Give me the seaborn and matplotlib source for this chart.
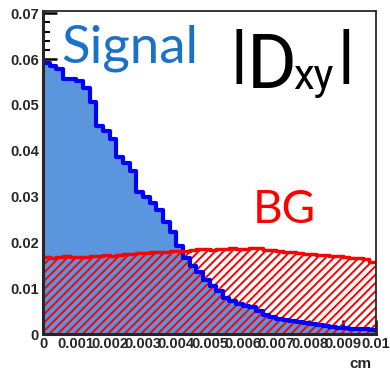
import numpy as np
import pandas as pd
import matplotlib
matplotlib.use("Agg")
import matplotlib.pyplot as plt
import seaborn as sns
from matplotlib.ticker import MultipleLocator, FixedLocator, FixedFormatter

# 50 bins de 0 a 0.01 cm
bin_edges = [round(i * 0.0002, 6) for i in range(51)]
bin_centers = [round(i * 0.0002 + 0.0001, 6) for i in range(50)]

signal = [0.0592, 0.0585, 0.0578, 0.0556, 0.0556, 0.0552, 0.0538, 0.0506, 0.0453, 0.0442,
          0.0425, 0.0386, 0.0374, 0.0355, 0.0311, 0.0300, 0.0286, 0.0270, 0.0245, 0.0222,
          0.0192, 0.0165, 0.0148, 0.0135, 0.0118, 0.0105, 0.0094, 0.0078, 0.0071, 0.0065,
          0.0062, 0.0058, 0.0050, 0.0041, 0.0037, 0.0033, 0.0030, 0.0028, 0.0026, 0.0024,
          0.0022, 0.0019, 0.0018, 0.0016, 0.0014, 0.0013, 0.0012, 0.0011, 0.0010, 0.0009]

background = [0.0168, 0.0166, 0.0168, 0.0170, 0.0168, 0.0169, 0.0168, 0.0170, 0.0171, 0.0172,
              0.0171, 0.0173, 0.0174, 0.0175, 0.0177, 0.0176, 0.0178, 0.0179, 0.0180, 0.0181,
              0.0182, 0.0181, 0.0184, 0.0185, 0.0186, 0.0184, 0.0185, 0.0186, 0.0187, 0.0185,
              0.0186, 0.0188, 0.0187, 0.0184, 0.0183, 0.0181, 0.0179, 0.0178, 0.0176, 0.0175,
              0.0174, 0.0172, 0.0172, 0.0170, 0.0171, 0.0168, 0.0165, 0.0166, 0.0164, 0.0157]

y_ticks = [0, 0.01, 0.02, 0.03, 0.04, 0.05, 0.06, 0.07]
y_labels = ["0", "0.01", "0.02", "0.03", "0.04", "0.05", "0.06", "0.07"]
x_ticks = [0, 0.001, 0.002, 0.003, 0.004, 0.005, 0.006, 0.007, 0.008, 0.009, 0.01]
x_labels = ["0", "0.001", "0.002", "0.003", "0.004", "0.005", "0.006", "0.007", "0.008", "0.009", "0.01"]

df = pd.DataFrame({"x": bin_centers, "sig": signal, "bg": background})

sns.set_style("ticks")
plt.rcParams["hatch.color"] = "red"
plt.rcParams["hatch.linewidth"] = 1.4

W, H = 390, 372
fig = plt.figure(figsize=(W / 100, H / 100), dpi=100)
ax = fig.add_axes([43 / W, 38 / H, 333 / W, 323 / H])

# sinal: preenchimento azul
sns.histplot(data=df, x="x", weights="sig", bins=bin_edges, element="step", fill=True,
             color="#5b95dd", alpha=1.0, linewidth=0, ax=ax, zorder=1)
# BG: hachurado vermelho
sns.histplot(data=df, x="x", weights="bg", bins=bin_edges, element="step", fill=True,
             color="red", facecolor="none", edgecolor="red", hatch="////", linewidth=0,
             alpha=1.0, ax=ax, zorder=2)
# contornos
sns.histplot(data=df, x="x", weights="sig", bins=bin_edges, element="step", fill=False,
             color="#0000ff", linewidth=3, ax=ax, zorder=3)
sns.histplot(data=df, x="x", weights="bg", bins=bin_edges, element="step", fill=False,
             color="red", linewidth=2.5, ax=ax, zorder=4)

ax.set_xlim(0, 0.01)
ax.set_ylim(0, 0.0705)
ax.set_xlabel("")
ax.set_ylabel("")

ax.yaxis.set_major_locator(FixedLocator(y_ticks))
ax.yaxis.set_major_formatter(FixedFormatter(y_labels))
ax.yaxis.set_minor_locator(MultipleLocator(0.002))
ax.xaxis.set_major_locator(FixedLocator(x_ticks))
ax.xaxis.set_major_formatter(FixedFormatter(x_labels))
ax.xaxis.set_minor_locator(MultipleLocator(0.0002))

ax.tick_params(which="major", direction="in", length=10, width=1.8, color="black",
               top=False, right=False, pad=3)
ax.tick_params(which="minor", direction="in", length=5, width=1.5, color="black",
               top=False, right=False)
for lab in ax.get_xticklabels() + ax.get_yticklabels():
    lab.set_fontfamily("Liberation Sans")
    lab.set_fontweight("bold")
    lab.set_fontsize(10.5)
ax.tick_params(axis="x", pad=2)

for side in ["left", "bottom"]:
    ax.spines[side].set_linewidth(2.2)
for side in ["top", "right"]:
    ax.spines[side].set_linewidth(1.3)
for s in ax.spines.values():
    s.set_zorder(6)

def px(x, y):
    # pixel (a partir do canto superior esquerdo) -> fração da figura
    return x / W, 1 - y / H

fig.text(*px(372, 357), "cm", ha="right", va="top",
         fontfamily="Liberation Sans", fontweight="bold", fontsize=11)

fig.text(*px(61, 63), "Signal", ha="left", va="baseline",
         fontfamily="Lato", fontsize=38, color="#1a72c8", zorder=7)
fig.text(*px(253, 223), "BG", ha="left", va="baseline",
         fontfamily="Lato", fontsize=33, color="red", zorder=7)

# |Dxy|
fam = ["Roboto", "Liberation Sans"]
fig.text(*px(239, 58), "|", ha="center", va="center",
         fontfamily=fam, fontweight="bold", fontsize=47, color="black", zorder=7)
fig.text(*px(272, 88), "D", ha="center", va="baseline",
         fontfamily=fam, fontsize=55, color="black", zorder=7)
fig.text(*px(313, 89), "xy", ha="center", va="baseline",
         fontfamily=fam, fontsize=30, color="black", zorder=7)
fig.text(*px(346, 58), "|", ha="center", va="center",
         fontfamily=fam, fontweight="bold", fontsize=47, color="black", zorder=7)

fig.savefig("out.png", dpi=100)
